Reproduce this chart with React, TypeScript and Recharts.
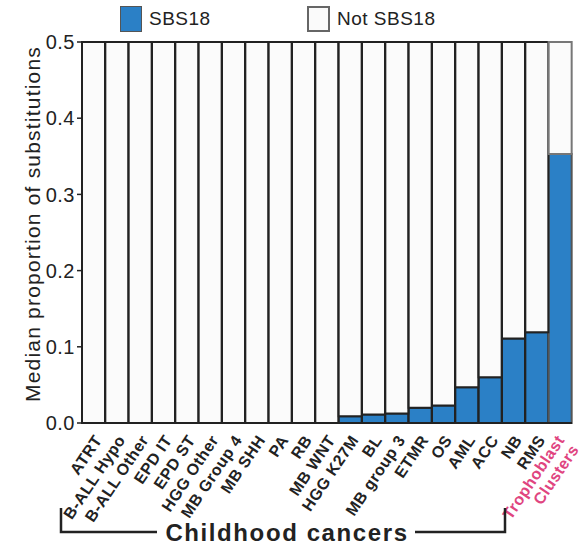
import React from 'react';
import { BarChart, Bar, XAxis, YAxis, Legend, Cell } from 'recharts';

// cancer types, ordered as in the figure
const categories = [
  'ATRT', 'B-ALL Hypo', 'B-ALL Other', 'EPD IT', 'EPD ST', 'HGG Other', 'MB Group 4',
  'MB SHH', 'PA', 'RB', 'MB WNT', 'HGG K27M', 'BL', 'MB group 3', 'ETMR', 'OS', 'AML',
  'ACC', 'NB', 'RMS', 'Trophoblast Clusters',
];

// median proportion of SBS18 substitutions
const sbs18 = [
  0, 0, 0, 0, 0, 0, 0, 0, 0, 0, 0, 0.009, 0.011, 0.0125, 0.02, 0.023, 0.047, 0.06,
  0.111, 0.119, 0.353,
];

// remainder shown up to the 0.5 axis limit
const notSbs18 = [
  0.5, 0.5, 0.5, 0.5, 0.5, 0.5, 0.5, 0.5, 0.5, 0.5, 0.5, 0.491, 0.489, 0.4875, 0.48,
  0.477, 0.453, 0.44, 0.389, 0.381, 0.147,
];

const yTicks = [0, 0.1, 0.2, 0.3, 0.4, 0.5];

const BLUE = '#2b80c6';
const PINK = '#e0457f';
const FONT = 'Liberation Sans, Arial, sans-serif';

const chartData = categories.map((name, i) => ({
  name,
  sbs18: sbs18[i],
  notSbs18: notSbs18[i],
}));

const tickText = { fontSize: 16, fontWeight: 'bold', fontFamily: FONT, letterSpacing: 0.5 } as const;

const XTick = (props: any) => {
  const { x, y, payload } = props;
  const ax = x + 9;
  const ay = y + 9;
  if (payload.value === 'Trophoblast Clusters') {
    const tx = ax - 4;
    return (
      <g transform={`rotate(-56, ${tx}, ${ay})`}>
        <text x={tx} y={ay} textAnchor="end" fill={PINK} {...tickText}>
          Trophoblast
        </text>
        <text x={tx} y={ay + 17} textAnchor="end" fill={PINK} {...tickText}>
          Clusters
        </text>
      </g>
    );
  }
  return (
    <text x={ax} y={ay} transform={`rotate(-56, ${ax}, ${ay})`} textAnchor="end" fill="#222" {...tickText}>
      {payload.value}
    </text>
  );
};

const YLabel = () => (
  <text
    x={40}
    y={224}
    transform="rotate(-90, 40, 224)"
    textAnchor="middle"
    fontSize={21}
    letterSpacing={1.2}
    fill="#222"
    fontFamily={FONT}
  >
    Median proportion of substitutions
  </text>
);

const LegendBox = () => (
  <div style={{ position: 'relative', height: 34, fontFamily: FONT, fontSize: 19, color: '#222' }}>
    <div style={{ position: 'absolute', left: 120, top: 6, width: 22, height: 26, background: BLUE, border: '1px solid #555', boxSizing: 'border-box' }} />
    <span style={{ position: 'absolute', left: 149, top: 8, letterSpacing: 0.5 }}>SBS18</span>
    <div style={{ position: 'absolute', left: 307, top: 6, width: 23, height: 26, background: '#fafafa', border: '2px solid #666', boxSizing: 'border-box' }} />
    <span style={{ position: 'absolute', left: 337, top: 8, letterSpacing: 0.5 }}>Not SBS18</span>
  </div>
);

export default function App() {
  return (
    <div style={{ position: 'absolute', left: 0, top: 0, width: 585, height: 545, background: '#fff' }}>
      <BarChart
        width={585}
        height={545}
        data={chartData}
        barCategoryGap={0}
        margin={{ top: 8, right: 13, bottom: 0, left: 0 }}
      >
        <Legend
          verticalAlign="top"
          content={() => <LegendBox />}
          wrapperStyle={{ top: 0, left: 0, width: 585 }}
        />
        <XAxis
          dataKey="name"
          interval={0}
          tick={<XTick />}
          tickLine={false}
          axisLine={{ stroke: '#222', strokeWidth: 2 }}
          height={122}
        />
        <YAxis
          domain={[0, 0.5]}
          ticks={yTicks}
          tickFormatter={(v: number) => v.toFixed(1)}
          width={82}
          tick={{ fontSize: 20, fill: '#222', fontFamily: FONT, letterSpacing: 0.5 }}
          tickLine={{ stroke: '#222', strokeWidth: 1.5 }}
          tickSize={5}
          axisLine={{ stroke: '#222', strokeWidth: 2 }}
          label={<YLabel />}
        />
        <Bar dataKey="sbs18" stackId="a" fill={BLUE} stroke="#222" strokeWidth={2} isAnimationActive={false}>
          {chartData.map((d, i) => (
            <Cell key={d.name} stroke={i === chartData.length - 1 ? '#555' : '#222'} />
          ))}
        </Bar>
        <Bar dataKey="notSbs18" stackId="a" fill="#fbfbfb" stroke="#222" strokeWidth={2} isAnimationActive={false}>
          {chartData.map((d, i) => (
            <Cell key={d.name} stroke={i === chartData.length - 1 ? '#777' : '#222'} />
          ))}
        </Bar>
      </BarChart>
      <svg width={585} height={545} style={{ position: 'absolute', left: 0, top: 0, pointerEvents: 'none' }}>
        <polyline points="61,508 61,532 157,532" fill="none" stroke="#222" strokeWidth={2.5} />
        <text x={287} y={541} textAnchor="middle" fontSize={24} fontWeight="bold" letterSpacing={1.6} fill="#222" fontFamily={FONT}>
          Childhood cancers
        </text>
        <polyline points="415,532 505,532 505,508" fill="none" stroke="#222" strokeWidth={2.5} />
      </svg>
    </div>
  );
}
